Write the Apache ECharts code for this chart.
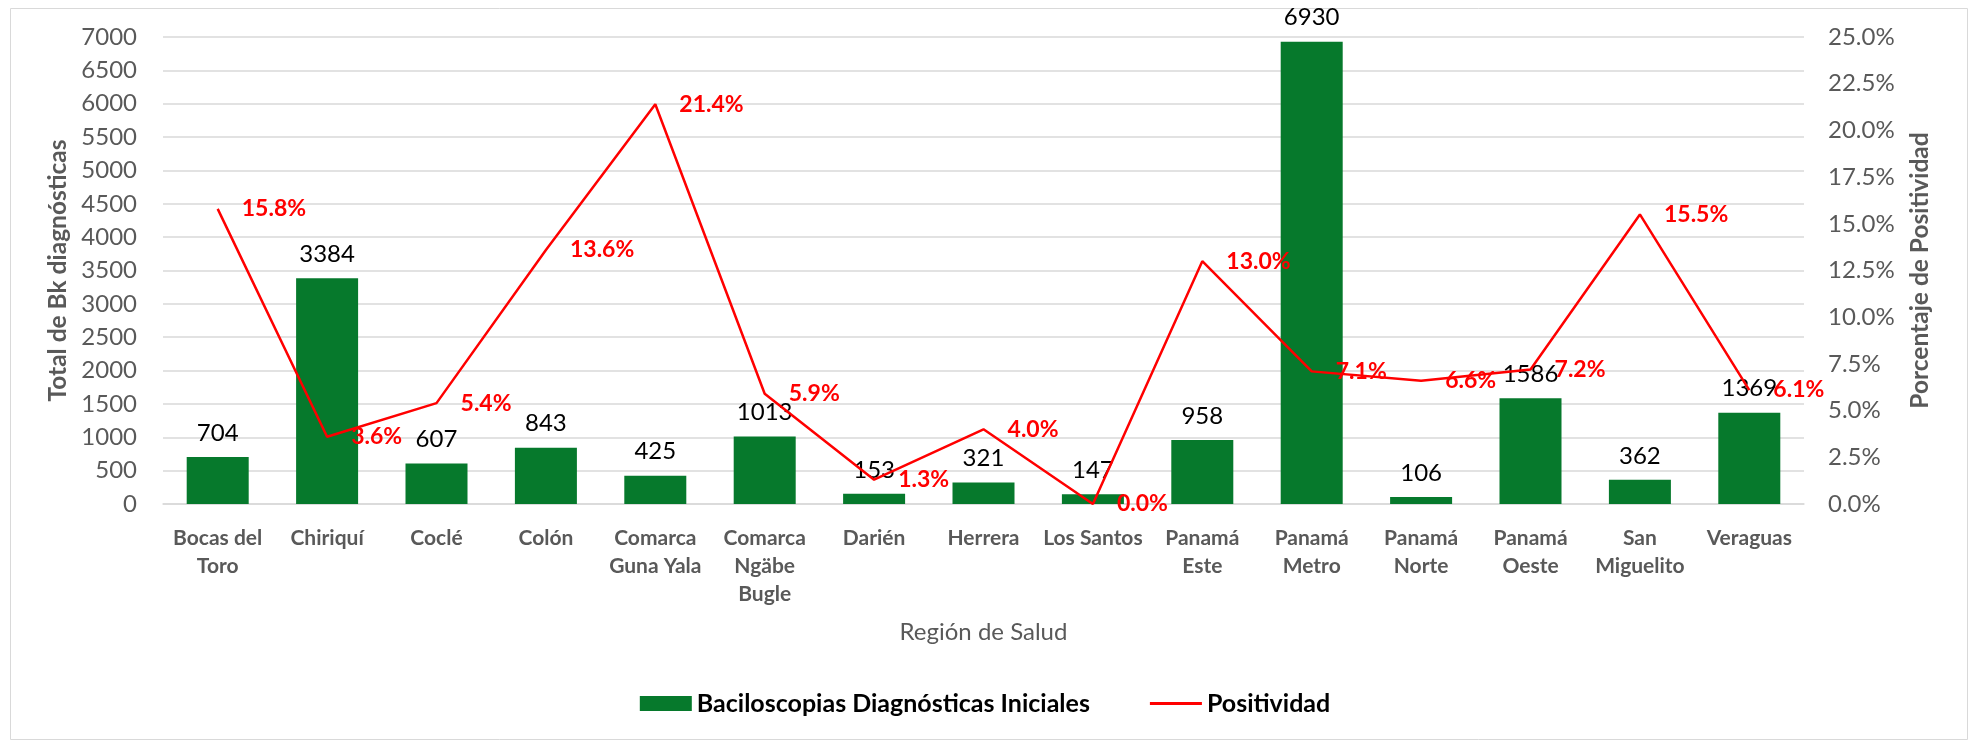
<!DOCTYPE html>
<html>
<head>
<meta charset="utf-8">
<script src="https://cdn.jsdelivr.net/npm/echarts@6/dist/echarts.min.js"></script>
<style>
  html, body { margin: 0; padding: 0; background: #fff; }
  #chart { width: 1970px; height: 743px; }
</style>
</head>
<body>
<div id="chart"></div>
<script>
// regiones de salud
const regiones = [
  'Bocas del\nToro', 'Chiriquí', 'Coclé', 'Colón', 'Comarca\nGuna Yala',
  'Comarca\nNgäbe\nBugle', 'Darién', 'Herrera', 'Los Santos', 'Panamá\nEste',
  'Panamá\nMetro', 'Panamá\nNorte', 'Panamá\nOeste', 'San\nMiguelito', 'Veraguas'
]
// baciloscopias diagnosticas iniciales
const baciloscopias = [704, 3384, 607, 843, 425, 1013, 153, 321, 147, 958, 6930, 106, 1586, 362, 1369]
// positividad (%)
const positividad = [15.8, 3.6, 5.4, 13.6, 21.4, 5.9, 1.3, 4.0, 0.0, 13.0, 7.1, 6.6, 7.2, 15.5, 6.1]

const font = 'Lato'
const gris = '#595959'

const option = {
  animation: false,
  textStyle: { fontFamily: font },
  graphic: [{
    type: 'rect',
    shape: { x: 10.5, y: 8.5, width: 1957, height: 731 },
    style: { fill: 'none', stroke: '#d9d9d9', lineWidth: 1 },
    silent: true
  }],
  grid: { left: 163, right: 166, top: 37, bottom: 239 },
  legend: {
    bottom: 22,
    left: 'center',
    itemWidth: 52,
    itemHeight: 15,
    itemGap: 60,
    textStyle: { fontFamily: font, fontWeight: 'bold', fontSize: 25, color: '#000' },
    data: [
      { name: 'Baciloscopias Diagnósticas Iniciales', icon: 'rect' },
      { name: 'Positividad', icon: 'path://M0 0H50V3H0Z' }
    ]
  },
  xAxis: {
    type: 'category',
    data: regiones,
    name: 'Región de Salud',
    nameLocation: 'middle',
    nameGap: 116,
    nameTextStyle: { fontFamily: font, fontSize: 24, color: gris },
    axisLine: { lineStyle: { color: '#d9d9d9', width: 1.5 } },
    axisTick: { show: false },
    axisLabel: {
      interval: 0,
      margin: 20,
      lineHeight: 28,
      fontFamily: font,
      fontWeight: 'bold',
      fontSize: 21,
      color: gris
    }
  },
  yAxis: [
    {
      type: 'value',
      min: 0,
      max: 7000,
      interval: 500,
      name: 'Total de Bk diagnósticas',
      nameLocation: 'middle',
      nameGap: 83,
      nameTextStyle: { fontFamily: font, fontWeight: 'bold', fontSize: 24.5, color: gris },
      axisLine: { show: false },
      axisTick: { show: false },
      axisLabel: { fontFamily: font, fontSize: 24, color: gris, margin: 26, formatter: v => String(v) },
      splitLine: { lineStyle: { color: '#d9d9d9', width: 1.5 } }
    },
    {
      type: 'value',
      min: 0,
      max: 25,
      interval: 2.5,
      name: 'Porcentaje de Positividad',
      nameLocation: 'middle',
      nameGap: 104,
      nameTextStyle: { fontFamily: font, fontWeight: 'bold', fontSize: 24.5, color: gris },
      axisLine: { show: false },
      axisTick: { show: false },
      axisLabel: {
        fontFamily: font, fontSize: 24, color: gris, margin: 24,
        formatter: v => v.toFixed(1) + '%'
      },
      splitLine: { show: false }
    }
  ],
  series: [
    {
      name: 'Baciloscopias Diagnósticas Iniciales',
      type: 'bar',
      data: baciloscopias,
      barWidth: 62,
      itemStyle: { color: '#06792c' },
      label: {
        show: true,
        position: 'top',
        distance: 12,
        fontFamily: font,
        fontSize: 24,
        color: '#000'
      }
    },
    {
      name: 'Positividad',
      type: 'line',
      yAxisIndex: 1,
      data: positividad,
      symbol: 'circle',
      symbolSize: 0.1,
      showSymbol: true,
      lineStyle: { color: '#ff0000', width: 2.5 },
      itemStyle: { color: '#ff0000' },
      label: {
        show: true,
        position: 'right',
        distance: 24,
        fontFamily: font,
        fontWeight: 'bold',
        fontSize: 23,
        color: '#ff0000',
        formatter: p => p.value.toFixed(1) + '%'
      }
    }
  ]
}

const chart = echarts.init(document.getElementById('chart'))
chart.setOption(option)
</script>
</body>
</html>
